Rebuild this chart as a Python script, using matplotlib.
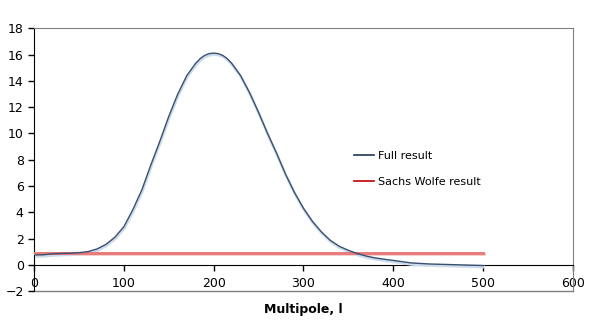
import matplotlib
matplotlib.use("Agg")
import matplotlib.pyplot as plt
import matplotlib.transforms as mtransforms
from matplotlib.lines import Line2D

# multipole values and the spectrum
ell = [2, 10, 20, 30, 40, 50, 60, 70, 80, 90, 100, 110, 120, 130, 140, 150,
       160, 170, 180, 185, 190, 195, 200, 205, 210, 215, 220, 230, 240, 250,
       260, 270, 280, 290, 300, 310, 320, 330, 340, 350, 360, 370, 380, 390,
       400, 420, 440, 460, 480, 500]
full = [0.75, 0.76, 0.83, 0.86, 0.88, 0.92, 1.0, 1.2, 1.55, 2.1, 2.9, 4.2,
        5.7, 7.6, 9.4, 11.3, 13.0, 14.4, 15.35, 15.7, 15.95, 16.08, 16.12,
        16.08, 15.95, 15.7, 15.35, 14.4, 13.1, 11.6, 10.0, 8.5, 6.9, 5.5, 4.3,
        3.3, 2.5, 1.85, 1.4, 1.1, 0.85, 0.66, 0.52, 0.42, 0.33, 0.14, 0.06,
        0.02, -0.02, -0.06]
sw_ell = [0, 500]
sw = [0.9, 0.9]

xticks = [0, 100, 200, 300, 400, 500, 600]
yticks = [-2, 0, 2, 4, 6, 8, 10, 12, 14, 16, 18]

fig = plt.figure(figsize=(5.98, 3.23), dpi=100)
ax = fig.add_axes([0.057, 0.099, 0.901, 0.813])

# soft drop shadows like the spreadsheet export
shadow = mtransforms.offset_copy(ax.transData, fig=fig, x=0.5, y=-1.5, units='dots')
ax.plot(sw_ell, sw, color='#f7d3d3', lw=2.2, transform=shadow, zorder=2)
ax.plot(ell, full, color='#cddceb', lw=2, transform=shadow, zorder=3)

ax.plot(sw_ell, sw, color='#e87b7b', lw=2.2, zorder=4)
ax.plot(ell, full, color='#3a4f70', lw=1.0, zorder=5)

ax.set_xlim(0, 600)
ax.set_ylim(-2, 18)
ax.set_xticks(xticks)
ax.set_yticks(yticks)

ax.spines['bottom'].set_position(('data', 0))
ax.spines['bottom'].set_color('black')
ax.spines['left'].set_color('black')
ax.spines['top'].set_color('#808080')
ax.spines['right'].set_color('#808080')
ax.plot([0, 1], [0, 0], transform=ax.transAxes, color='#808080', lw=1,
        clip_on=False, zorder=1)

ax.tick_params(axis='both', direction='out', length=4, width=1, labelsize=9,
               colors='black')
ax.tick_params(axis='x', pad=5)

ax.set_xlabel('Multipole, l', fontsize=9, fontweight='bold')
ax.xaxis.set_label_coords(0.5, -0.045)

handles = [Line2D([], [], color='#1f3550', lw=1.2),
           Line2D([], [], color='#c00000', lw=1.2)]
ax.legend(handles, ['Full result', 'Sachs Wolfe result'], loc='upper left',
          bbox_to_anchor=(0.593, 0.535), frameon=False, fontsize=8,
          handlelength=1.8, handletextpad=0.4, labelspacing=1.45,
          borderpad=0, borderaxespad=0)

fig.savefig('out.png', dpi=100)
